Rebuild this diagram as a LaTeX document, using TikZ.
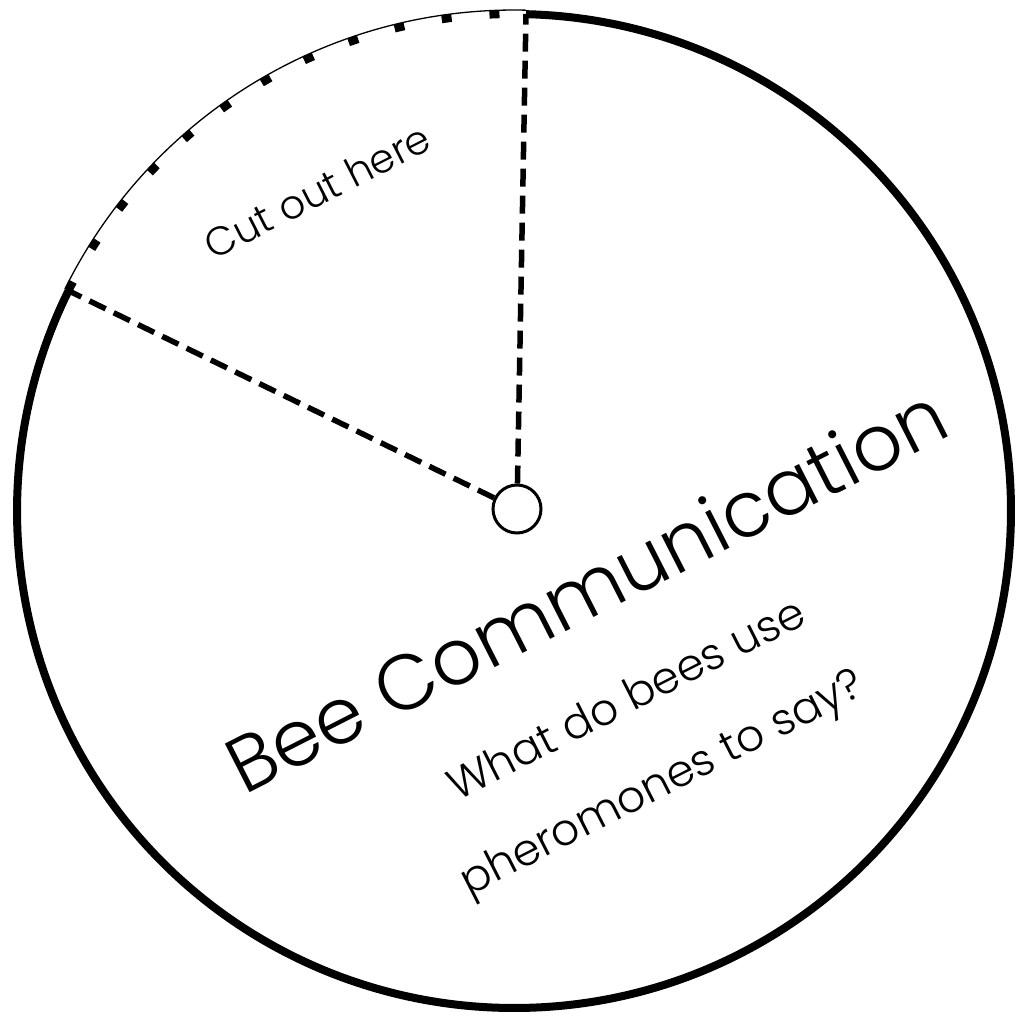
\documentclass[tikz,border=0pt]{standalone}
\usepackage{fontspec}
\setmainfont{Poppins}[UprightFont=* Light]
\begin{document}
\begin{tikzpicture}[x=1pt,y=-1pt,
  rim/.style={line width=8pt},
  cutline/.style={line width=5.5pt, dash pattern=on 18pt off 9pt},
  lbl/.style={anchor=base, rotate=27, inner sep=0pt}]
\useasboundingbox (0,0) rectangle (1015,1017);
\fill[white] (0,0) rectangle (1015,1017);
\coordinate (c) at (514,511);
% solid rim
\draw[rim] (c) ++(-88.6:497) arc[start angle=-88.6, end angle=206.3, radius=497];
% thin rim in cut-out sector
\draw[line width=1.3pt] (c) ++(-153.7:501) arc[start angle=-153.7, end angle=-88.6, radius=501];
% dotted rim in cut-out sector
\draw[line width=8pt, dash pattern=on 10pt off 38pt] (c) ++(-153.7:497) arc[start angle=-153.7, end angle=-91, radius=497];
% hub and cut lines
\node[circle, draw, line width=3pt, minimum size=48pt, inner sep=0pt] (hub) at (517,509) {};
\coordinate (topend) at (526,14);
\coordinate (leftend) at (67,290);
\draw[cutline] (hub) -- (topend);
\draw[cutline] (hub) -- (leftend);
% texts
\node[lbl, font=\fontsize{40}{44}\selectfont] (cut) at (324,204) {Cut out here};
\node[lbl, font=\fontsize{78}{84}\selectfont] (title) at (599,615) {Bee Communication};
\node[lbl, font=\fontsize{44}{48}\selectfont] (q1) at (633,712) {What do bees use};
\node[lbl, font=\fontsize{44}{48}\selectfont] (q2) at (668,795) {pheromones to say?};
\end{tikzpicture}
\end{document}
